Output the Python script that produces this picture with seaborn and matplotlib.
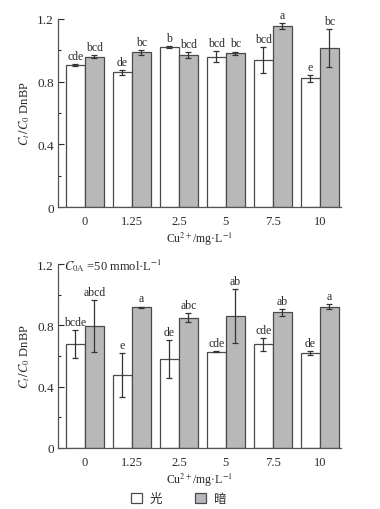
import seaborn as sns
import matplotlib.pyplot as plt
import pandas as pd
from matplotlib.patches import Patch

concs = ["0", "1.25", "2.5", "5", "7.5", "10"]
conds = ["光", "暗"]

# top panel: no oxalic acid
top_light = [0.906, 0.86, 1.023, 0.959, 0.936, 0.821]
top_light_err = [0.006, 0.015, 0.006, 0.037, 0.083, 0.023]
top_dark = [0.959, 0.987, 0.968, 0.98, 1.155, 1.013]
top_dark_err = [0.01, 0.017, 0.02, 0.012, 0.019, 0.122]
top_light_lbl = ["cde", "de", "b", "bcd", "bcd", "e"]
top_dark_lbl = ["bcd", "bc", "bcd", "bc", "a", "bc"]

# bottom panel: C0A = 50 mmol/L
bot_light = [0.678, 0.478, 0.58, 0.628, 0.676, 0.618]
bot_light_err = [0.091, 0.143, 0.126, 0.005, 0.042, 0.014]
bot_dark = [0.794, 0.918, 0.85, 0.861, 0.885, 0.922]
bot_dark_err = [0.17, 0.005, 0.03, 0.174, 0.022, 0.015]
bot_light_lbl = ["bcde", "e", "de", "cde", "cde", "de"]
bot_dark_lbl = ["abcd", "a", "abc", "ab", "ab", "a"]

sns.set_style("ticks")
plt.rcParams["font.family"] = ["Liberation Serif", "Noto Sans CJK SC", "DejaVu Sans"]
plt.rcParams["mathtext.fontset"] = "stix"

txt = "#2a2a2a"
edge = "#4a4a4a"
palette = {"光": "white", "暗": "#b7b8bc"}


def draw_panel(ax, light, light_err, dark, dark_err, light_lbl, dark_lbl):
    df = pd.DataFrame({
        "conc": concs * 2,
        "cond": [conds[0]] * 6 + [conds[1]] * 6,
        "val": light + dark,
    })
    sns.barplot(data=df, x="conc", y="val", hue="cond", order=concs, hue_order=conds,
                palette=palette, edgecolor=edge, linewidth=0.9, errorbar=None,
                width=0.81, legend=False, ax=ax)

    for cont, vals, errs, lbls in zip(ax.containers, [light, dark], [light_err, dark_err], [light_lbl, dark_lbl]):
        xs = [b.get_x() + b.get_width() / 2 for b in cont]
        ax.errorbar(xs, vals, yerr=errs, fmt="none", ecolor="#333333", elinewidth=0.9,
                    capsize=2.5, capthick=0.9)
        for x, v, e, l in zip(xs, vals, errs, lbls):
            ax.annotate(l, (x, v + e), xytext=(0, 1.5), textcoords="offset points",
                        ha="center", va="bottom", fontsize=8.5, color=txt, annotation_clip=False)

    ax.set_xlim(-0.57, 5.45)
    ax.set_ylim(0, 1.2)
    ax.set_yticks([0, 0.4, 0.8, 1.2])
    ax.set_yticklabels(["0", "0.4", "0.8", "1.2"])
    ax.set_yticks([0.2, 0.6, 1.0], minor=True)
    ax.tick_params(axis="y", direction="in", length=4, width=0.8, labelsize=9.5, colors=txt, pad=3)
    ax.tick_params(axis="y", which="minor", direction="in", length=2.5, width=0.8, left=True)
    ax.tick_params(axis="x", length=0, labelsize=9, colors=txt, pad=6)
    sns.despine(ax=ax)
    for s in ["left", "bottom"]:
        ax.spines[s].set_color("#555555")
        ax.spines[s].set_linewidth(0.9)
    ax.set_xlabel("Cu$^{2+}$/mg·L$^{-1}$", fontsize=8.5, color=txt, labelpad=2)
    ax.set_ylabel("$C_t\\,/C_0$ DnBP", fontsize=9, color=txt, labelpad=4)


fig = plt.figure(figsize=(3.8, 5.1), dpi=100)
ax1 = fig.add_axes([0.153, 0.592, 0.744, 0.369])
ax2 = fig.add_axes([0.153, 0.120, 0.744, 0.360])

draw_panel(ax1, top_light, top_light_err, top_dark, top_dark_err, top_light_lbl, top_dark_lbl)
draw_panel(ax2, bot_light, bot_light_err, bot_dark, bot_dark_err, bot_light_lbl, bot_dark_lbl)

ax2.text(0.02, 1.0, "$C_{0\\mathrm{A}}$ =50 mmol·L$^{-1}$", transform=ax2.transAxes,
         ha="left", va="center", fontsize=9, color=txt)

handles = [Patch(facecolor=palette[c], edgecolor=edge, linewidth=0.9, label=c) for c in conds]
fig.legend(handles=handles, loc="center", bbox_to_anchor=(0.47, 0.02), ncol=2, frameon=False,
           handlelength=0.9, handleheight=0.9, handletextpad=0.6, columnspacing=2.6,
           prop={"family": ["Noto Sans CJK SC"], "size": 9})

fig.savefig("out.png", dpi=100)
